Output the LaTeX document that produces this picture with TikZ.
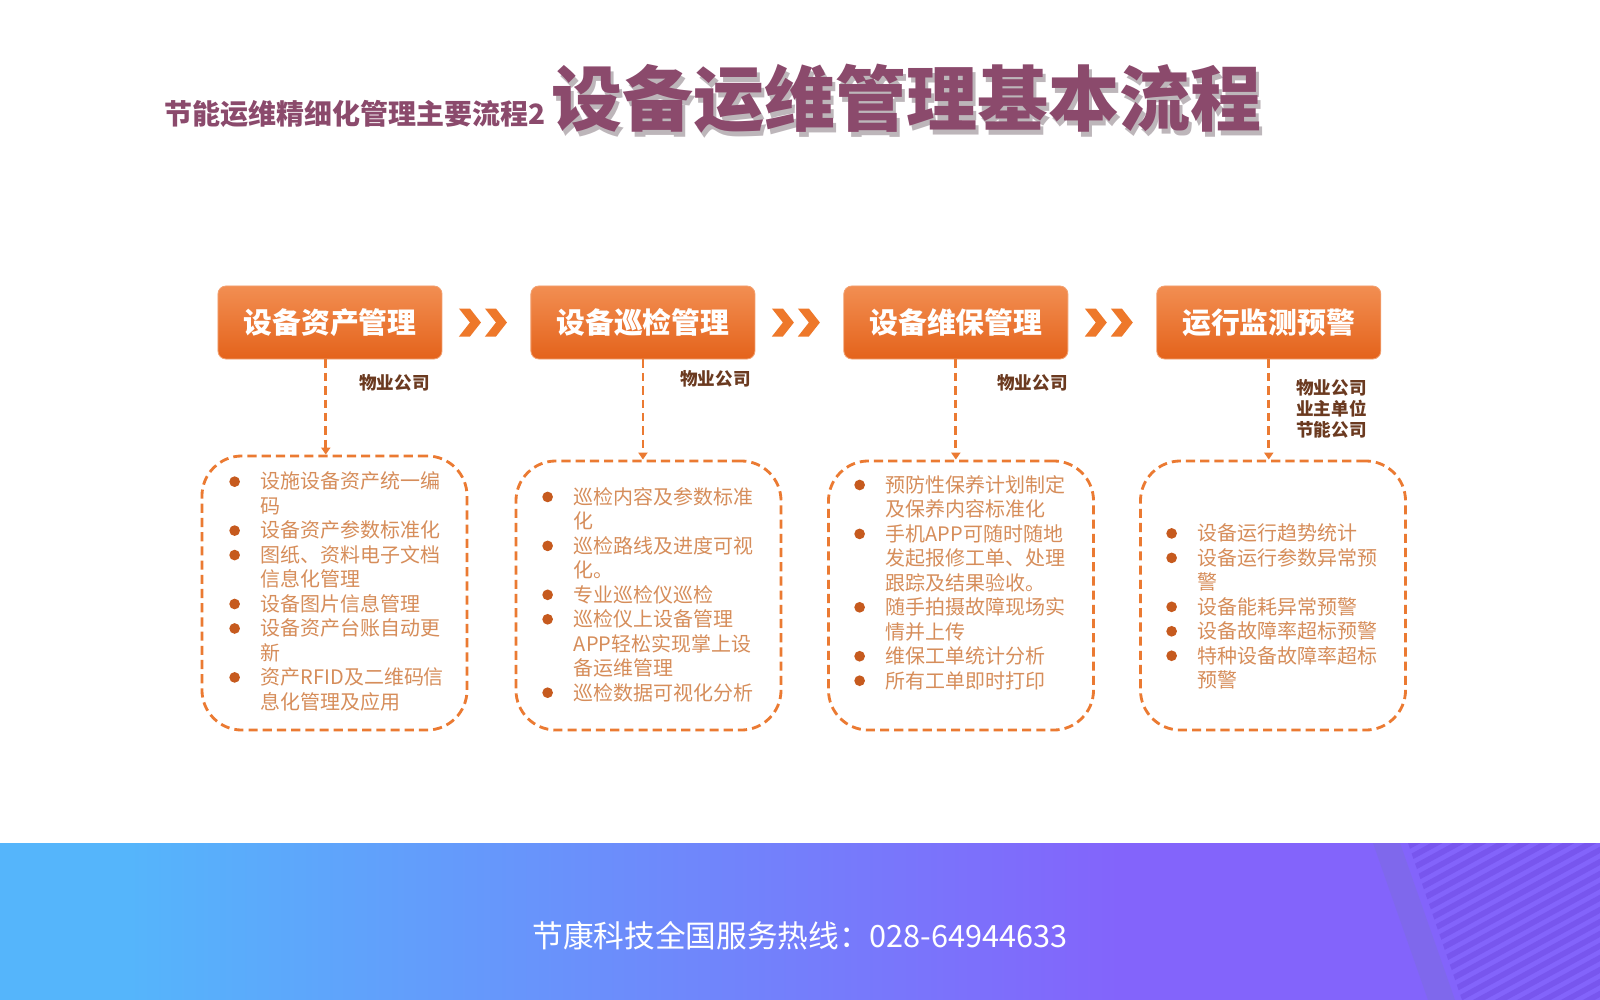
\documentclass[tikz,border=0pt]{standalone}
\usepackage{fontspec}
\newfontfamily\cjk{Noto Sans CJK SC}
\usetikzlibrary{arrows.meta,positioning}
\definecolor{titlec}{HTML}{8B4A6C}
\definecolor{shadec}{HTML}{BDB6BA}
\definecolor{boxtop}{HTML}{F28E52}
\definecolor{boxbot}{HTML}{E4631B}
\definecolor{boxedge}{HTML}{F2A070}
\definecolor{chevc}{HTML}{EE782A}
\definecolor{dashc}{HTML}{EB7A32}
\definecolor{dotc}{HTML}{C65A1E}
\definecolor{itemc}{HTML}{D68D5A}
\definecolor{rolec}{HTML}{6B3A20}
\definecolor{bandl}{HTML}{55B5FB}
\definecolor{bandr}{HTML}{8364FB}
\definecolor{stripec}{HTML}{7856EE}
\definecolor{barc}{HTML}{7E6AE6}
\pgfdeclarehorizontalshading{band}{100bp}{color(0bp)=(bandl); color(29bp)=(bandl);
  color(60bp)=(bandr); color(100bp)=(bandr)}
\newcommand\dotmark{\tikz[baseline={(0pt,-5.2pt)}]\fill[dotc] (0pt,0pt) circle[radius=3.8pt];}
\newcommand\itm{\makebox[0.79cm][l]{\dotmark}}
\newcommand\itc{\hspace*{0.79cm}}

\begin{document}
\begin{tikzpicture}[x=0.025cm, y=-0.025cm,
    head/.style={font=\cjk\bfseries\fontsize{50.5}{56}\selectfont, text=titlec,
                 inner sep=0, anchor=west},
    subhead/.style={font=\cjk\bfseries\fontsize{19.9}{24}\selectfont, text=titlec,
                    inner sep=0, anchor=east},
    stage/.style={rounded corners=0.2cm, top color=boxtop, bottom color=boxbot,
                  draw=boxedge, line width=0.6pt, text=white,
                  font=\cjk\bfseries\fontsize{20.5}{24}\selectfont,
                  minimum width=5.6cm, minimum height=1.825cm},
    panel/.style={draw=dashc, dash pattern=on 6.5pt off 3.6pt, line width=2pt,
                  rounded corners=1cm, minimum width=6.625cm, minimum height=6.725cm},
    link/.style={draw=dashc, dash pattern=on 6pt off 3.5pt, line width=2pt,
                 -{Triangle[length=5pt,width=6.5pt]}},
    role/.style={text=rolec, font=\cjk\bfseries\fontsize{12.5}{15}\selectfont,
                 align=left, anchor=west, inner sep=0},
    items/.style={text=itemc, font=\cjk\fontsize{14.2}{17.4}\selectfont,
                  align=left, anchor=west, inner sep=0},
    chev/.style={fill=chevc},
    stripe/.style={draw=stripec, line width=4pt},
    hotline/.style={text=white, font=\cjk\fontsize{21.8}{25}\selectfont, inner sep=0}
  ]
  \fill[white] (0,0) rectangle (1600,1000);
  \useasboundingbox (0,0) rectangle (1600,1000);

  % title
  \node[head, text=shadec] (titleshade) at (554,104) {设备运维管理基本流程};
  \node[head] (title) at (551,99) {设备运维管理基本流程};
  \node[subhead] (subtitle) at (546,114) {节能运维精细化管理主要流程2};

  % stages
  \node[stage] (asset)   at (330,322.5)           {设备资产管理};
  \node[stage] (patrol)  [right=2.2cm of asset]   {设备巡检管理};
  \node[stage] (repair)  [right=2.2cm of patrol]  {设备维保管理};
  \node[stage] (monitor) [right=2.2cm of repair]  {运行监测预警};

  \path (asset.east)  -- (patrol.west)  coordinate[midway] (m1);
  \path (patrol.east) -- (repair.west)  coordinate[midway] (m2);
  \path (repair.east) -- (monitor.west) coordinate[midway] (m3);
  \foreach \m in {m1,m2,m3}
    \foreach \dx in {-16.5,9.5}
      \fill[chev] ([shift={(\dx-11,-14)}]\m) -- ++(11,0) -- ++(11,14) -- ++(-11,14)
                  -- ++(-11,0) -- ++(11,-14) -- cycle;

  % panels
  \node[panel, minimum height=6.85cm] (assetlist) at (334.5,593) {};
  \node[panel] (patrollist)  at (648.5,595.5) {};
  \node[panel] (repairlist)  at (961,595.5)   {};
  \node[panel] (monitorlist) at (1273,595.5)  {};

  \draw[link] ([xshift=-3pt]asset.south) -- ([xshift=-3pt]asset.south |- assetlist.north);
  \draw[link] (patrol.south)  -- (patrol.south  |- patrollist.north);
  \draw[link] (repair.south)  -- (repair.south  |- repairlist.north);
  \draw[link] (monitor.south) -- (monitor.south |- monitorlist.north);

  % who
  \node[role] (who1) at (359,383) {物业公司};
  \node[role] (who2) at (680,379) {物业公司};
  \node[role] (who3) at (997,383) {物业公司};
  \node[role] (who4) at (1296,409) {物业公司\\业主单位\\节能公司};

  % items
  \node[items] (assettext) at (229,591.5) {\itm 设施设备资产统一编\\
    \itc 码\\
    \itm 设备资产参数标准化\\
    \itm 图纸、资料电子文档\\
    \itc 信息化管理\\
    \itm 设备图片信息管理\\
    \itm 设备资产台账自动更\\
    \itc 新\\
    \itm 资产RFID及二维码信\\
    \itc 息化管理及应用};
  \node[items] (patroltext) at (542,594.5) {\itm 巡检内容及参数标准\\
    \itc 化\\
    \itm 巡检路线及进度可视\\
    \itc 化。\\
    \itm 专业巡检仪巡检\\
    \itm 巡检仪上设备管理\\
    \itc APP轻松实现掌上设\\
    \itc 备运维管理\\
    \itm 巡检数据可视化分析};
  \node[items] (repairtext) at (854,582.5) {\itm 预防性保养计划制定\\
    \itc 及保养内容标准化\\
    \itm 手机APP可随时随地\\
    \itc 发起报修工单、处理\\
    \itc 跟踪及结果验收。\\
    \itm 随手拍摄故障现场实\\
    \itc 情并上传\\
    \itm 维保工单统计分析\\
    \itm 所有工单即时打印};
  \node[items] (monitortext) at (1166,606.5) {\itm 设备运行趋势统计\\
    \itm 设备运行参数异常预\\
    \itc 警\\
    \itm 设备能耗异常预警\\
    \itm 设备故障率超标预警\\
    \itm 特种设备故障率超标\\
    \itc 预警};

  % footer band
  \fill[shading=band] (0,843) rectangle (1600,1000);
  \begin{scope}
    \clip (1408,843) -- (1600,843) -- (1600,1000) -- (1462,1000) -- cycle;
    \foreach \k in {0,...,32}
      \draw[stripe] (1380,{850+12*\k}) -- ++(260,-142);
  \end{scope}
  \fill[barc, opacity=0.7] (1373,843) -- (1400,843) -- (1455,1000) -- (1428,1000) -- cycle;
  \node[hotline] (hotline) at (800,936) {节康科技全国服务热线：028-64944633};
\end{tikzpicture}
\end{document}
